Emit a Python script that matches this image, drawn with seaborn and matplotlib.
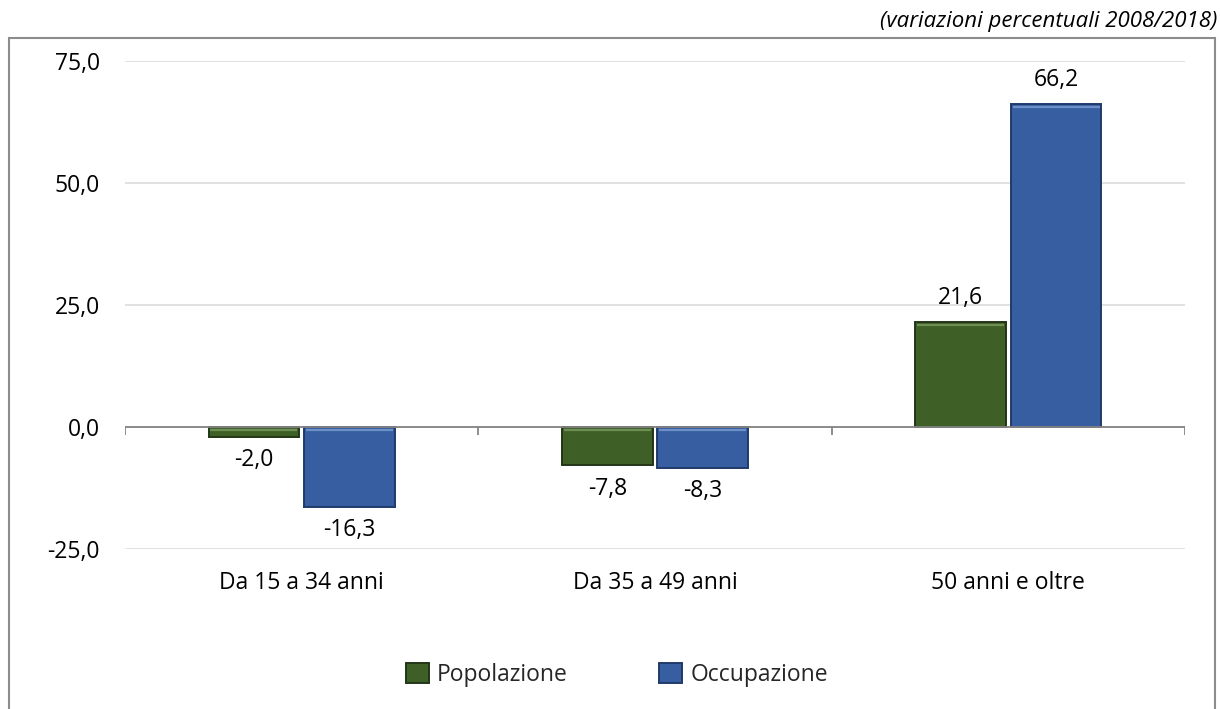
import matplotlib
matplotlib.use("Agg")
import matplotlib.pyplot as plt
import matplotlib.patches as mpatches
import matplotlib.transforms as mtransforms
from matplotlib.ticker import FuncFormatter
import seaborn as sns
import pandas as pd

categories = ["Da 15 a 34 anni", "Da 35 a 49 anni", "50 anni e oltre"]
series_names = ["Popolazione", "Occupazione"]
popolazione = [-2.0, -7.8, 21.6]
occupazione = [-16.3, -8.3, 66.2]
y_ticks = [-25, 0, 25, 50, 75]
subtitle = "(variazioni percentuali 2008/2018)"

colors = {"Popolazione": "#3E5F25", "Occupazione": "#365EA0"}
edges = {"Popolazione": "#223617", "Occupazione": "#1F3A6A"}
highlights = {"Popolazione": "#6E8E55", "Occupazione": "#6D8FC8"}

df = pd.DataFrame({
    "categoria": categories * 2,
    "serie": [series_names[0]] * 3 + [series_names[1]] * 3,
    "valore": popolazione + occupazione,
})

sns.set_theme(style="white")
plt.rcParams["font.family"] = ["Open Sans", "DejaVu Sans"]
FS = 16.5

fig = plt.figure(figsize=(12.2, 7.09), dpi=100)
ax = fig.add_axes([125 / 1220, 1 - 549 / 709, 1060 / 1220, 488 / 709])

sns.barplot(data=df, x="categoria", y="valore", hue="serie", order=categories,
            hue_order=series_names, palette=colors, saturation=1, width=0.54, gap=0.05,
            legend=False, ax=ax, zorder=3)

# darker outline and a light bevel line along the top of each bar
down = mtransforms.offset_copy(ax.transData, fig=fig, x=0, y=-3, units="dots")
for container, name in zip(ax.containers, series_names):
    for bar in container:
        bar.set_edgecolor(edges[name])
        bar.set_linewidth(1.4)
        x0 = bar.get_x()
        w = bar.get_width()
        top = max(bar.get_y(), bar.get_y() + bar.get_height())
        ax.plot([x0 + w * 0.02, x0 + w * 0.98], [top, top], transform=down,
                color=highlights[name], linewidth=1.6, zorder=3.5,
                solid_capstyle="butt")

# value labels outside bar ends
for container in ax.containers:
    for bar in container:
        v = bar.get_height() if bar.get_y() >= 0 else bar.get_y()
        x = bar.get_x() + bar.get_width() / 2
        off = 17 if v >= 0 else -17
        ax.annotate(f"{v:.1f}".replace(".", ","), (x, v), xytext=(0, off),
                    textcoords="offset points", ha="center", va="center",
                    fontsize=FS, color="#000000", annotation_clip=False)

ax.set_xlim(-0.5, 2.5)
ax.set_ylim(-25, 75)
ax.set_yticks(y_ticks)
ax.yaxis.set_major_formatter(FuncFormatter(lambda v, p: f"{v:.1f}".replace(".", ",")))
ax.grid(axis="y", color="#D9D9D9", linewidth=1.1, zorder=0)
ax.grid(axis="x", visible=False)
ax.axhline(0, color="#858585", linewidth=1.3, zorder=4)
# tick marks at category boundaries on the zero line
ax.vlines([-0.5, 0.5, 1.5, 2.5], -1.7, 0, color="#858585", linewidth=1.3, zorder=4)

for s in ax.spines.values():
    s.set_visible(False)
ax.tick_params(axis="y", length=0, pad=18, labelsize=FS, labelcolor="#000000")
ax.tick_params(axis="x", length=0, pad=16, labelsize=FS, labelcolor="#000000")
ax.set_xlabel("")
ax.set_ylabel("")

handles = [mpatches.Patch(facecolor=colors[n], edgecolor=edges[n], linewidth=1.4, label=n)
           for n in series_names]
fig.legend(handles=handles, loc="center", bbox_to_anchor=(617 / 1220, 1 - 675 / 709),
           ncol=2, frameon=False, fontsize=FS, handlelength=1.0, handleheight=1.0,
           handletextpad=0.35, columnspacing=4.0)

# frame around the chart area
fig.patches.append(mpatches.Rectangle((9 / 1220, -0.05), 1206 / 1220, 0.05 + 1 - 38 / 709,
                                      transform=fig.transFigure, fill=False,
                                      edgecolor="#8C8C8C", linewidth=1.5))

fig.text(1217 / 1220, 1 - 27 / 709, subtitle, ha="right", va="baseline",
         fontsize=16, style="italic", color="#000000")

fig.savefig("out.png", dpi=100)
